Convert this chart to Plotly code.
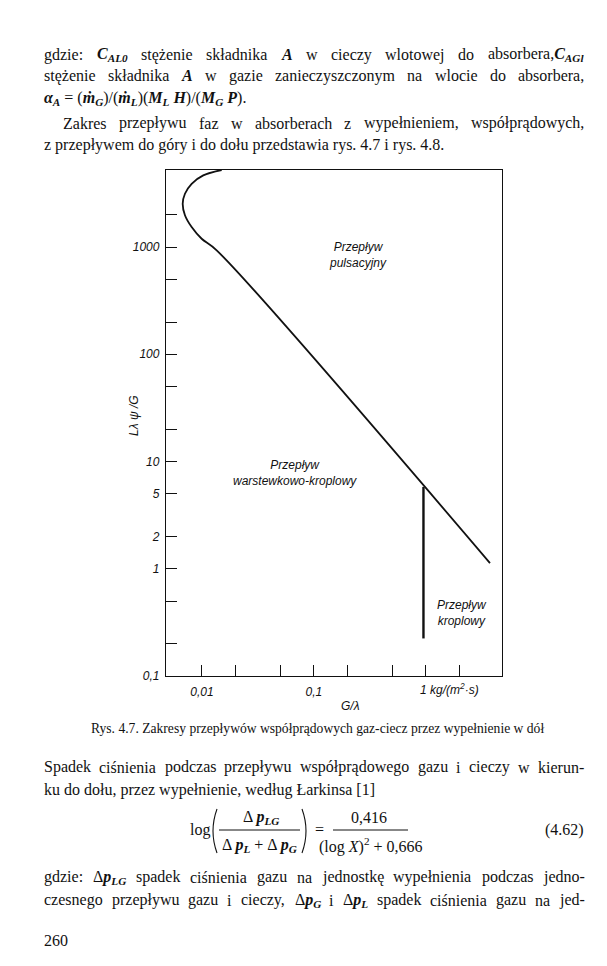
import re
import plotly.graph_objects as go

# ---------------- data ----------------
curve_x = [0.0150, 0.01027, 0.00809, 0.00705, 0.00673, 0.00705, 0.00809, 0.00994, 0.01353, 3.73]
curve_y = [5230, 4660, 3890, 3140, 2535, 1977, 1535, 1195, 931, 1.13]
boundary_x = [0.95, 0.95]
boundary_y = [5.8, 0.224]

y_tickvals = [0.1, 0.2, 0.5, 1, 2, 5, 10, 20, 50, 100, 200, 500, 1000, 2000]
y_ticktext = ["0,1", "", "", "1", "2", "5", "10", "", "", "100", "", "", "1000", ""]
x_tickvals = [0.01, 0.02, 0.05, 0.1, 0.2, 0.5, 1, 2]
x_ticktext = ["0,01", "", "", "0,1", "", "", "", ""]
x_unit_label = "1 kg/(m<sup>2</sup>·s)"
x_title = "G/λ"
y_title = "Lλ ψ /G"
region_labels = ["Przepływ<br>pulsacyjny", "Przepływ<br>warstewkowo-kroplowy", "Przepływ<br>kroplowy"]

caption = "Rys. 4.7. Zakresy przepływów współprądowych gaz-ciecz przez wypełnienie w dół"

# ---------------- layout helpers ----------------
# page coordinates (the html body adds an 8 px margin on the top and left)
OFF = 8
FW, FH = 607 - OFF, 950
L, R, T, B = 166, 502, 170, 676
PW, PH = R - L, B - T


def px(x):
    return (x - L) / PW


def py(y):
    return (B - y) / PH


TW = {' ': 250, '!': 333, '(': 333, ')': 333, ',': 250, '-': 333, '.': 250, '/': 278,
      ':': 278, '[': 333, ']': 333, '=': 564, '+': 564, '·': 250,
      'A': 722, 'B': 667, 'C': 667, 'D': 722, 'E': 611, 'F': 556, 'G': 722, 'H': 722,
      'I': 333, 'J': 389, 'K': 722, 'L': 611, 'M': 889, 'N': 722, 'O': 722, 'P': 556,
      'Q': 722, 'R': 667, 'S': 556, 'T': 611, 'U': 722, 'V': 722, 'W': 944, 'X': 722,
      'Y': 722, 'Z': 611, 'Ł': 611, 'Δ': 612, 'α': 520,
      'a': 444, 'b': 500, 'c': 444, 'd': 500, 'e': 444, 'f': 333, 'g': 500, 'h': 500,
      'i': 278, 'j': 278, 'k': 500, 'l': 278, 'm': 778, 'n': 500, 'o': 500, 'p': 500,
      'q': 500, 'r': 333, 's': 389, 't': 278, 'u': 500, 'v': 500, 'w': 722, 'x': 500,
      'y': 500, 'z': 444, 'ą': 444, 'ę': 444, 'ć': 444, 'ł': 278, 'ń': 500, 'ó': 500,
      'ś': 389, 'ź': 444, 'ż': 444, 'ṁ': 778}


def text_width(html, size):
    total, scale = 0.0, 1.0
    for tok in re.split(r'(<[^>]+>)', html):
        if tok.startswith('<'):
            t = tok.lower()
            if t in ('<sub>', '<sup>'):
                scale = 0.7
            elif t in ('</sub>', '</sup>'):
                scale = 1.0
            continue
        for ch in tok:
            total += TW.get(ch, 500) * scale
    return total * size / 1000.0


SERIF = "Liberation Serif"
SANS = "Liberation Sans"
INK = "#111111"
annotations = []
shapes = []


def text(s, x, y, size, anchor="left", family=SERIF, style="normal", angle=0):
    annotations.append(dict(text=s, x=px(x), y=py(y), xref="paper", yref="paper",
                            xanchor=anchor, yanchor="middle", showarrow=False,
                            textangle=angle, borderpad=0,
                            font=dict(family=family, size=size, color=INK, style=style)))


def justify(words, x0, x1, y, size):
    widths = [text_width(w, size) for w in words]
    gap = (x1 - x0 - sum(widths)) / (len(words) - 1)
    x = x0
    for w, wd in zip(words, widths):
        text(w, x, y, size)
        x += wd + gap


def bi(s):
    return "<b><i>" + s + "</i></b>"


def sub(s):
    return "<sub>" + s + "</sub>"


def hline(xa, xb, y):
    shapes.append(dict(type="line", xref="paper", yref="paper", x0=px(xa), x1=px(xb),
                       y0=py(y), y1=py(y), line=dict(color=INK, width=1)))


def paren(xe, xm, y0, y1):
    path = "M %.5f %.5f Q %.5f %.5f %.5f %.5f" % (px(xe), py(y0), px(xm), py((y0 + y1) / 2),
                                                  px(xe), py(y1))
    shapes.append(dict(type="path", xref="paper", yref="paper", path=path,
                       line=dict(color=INK, width=1.1)))


FS = 16
# ---------------- body text above ----------------
justify(["gdzie:", bi("C") + sub(bi("AL0")), "stężenie", "składnika", bi("A"), "w", "cieczy",
         "wlotowej", "do", "absorbera," + bi("C") + sub(bi("AGl"))], 43, 583, 55, FS)
justify(["stężenie", "składnika", bi("A"), "w", "gazie", "zanieczyszczonym", "na", "wlocie",
         "do", "absorbera,"], 43, 583, 76, FS)
text(bi("α") + sub(bi("A")) + " = (" + bi("ṁ") + sub(bi("G")) + ")/(" + bi("ṁ") + sub(bi("L"))
     + ")(" + bi("M") + sub(bi("L")) + " " + bi("H") + ")/(" + bi("M") + sub(bi("G")) + " "
     + bi("P") + ").", 43, 99, FS)
justify("Zakres przepływu faz w absorberach z wypełnieniem, współprądowych,".split(), 62, 583, 123, FS)
text("z przepływem do góry i do dołu przedstawia rys. 4.7 i rys. 4.8.", 43, 145, FS)

# ---------------- caption ----------------
cap_size = 454 / (text_width(caption, 1.0))
text(caption, 317, 728, cap_size, anchor="center")

# ---------------- body text below ----------------
justify("Spadek ciśnienia podczas przepływu współprądowego gazu i cieczy w kierun-".split(),
        43, 583, 767, FS)
text("ku do dołu, przez wypełnienie, według Łarkinsa [1]", 43, 790, FS)

# equation 4.62
text("log", 200, 830, FS, anchor="center")
paren(217, 209, 809, 853)
paren(302, 310, 809, 853)
text("Δ " + bi("p") + sub(bi("LG")), 261, 817, FS, anchor="center")
hline(219, 300, 830)
text("Δ " + bi("p") + sub(bi("L")) + " + Δ " + bi("p") + sub(bi("G")), 259, 845, FS, anchor="center")
text("=", 319, 829, FS, anchor="center")
text("0,416", 369, 817, FS, anchor="center")
hline(333, 408, 830)
text("(log <i>X</i>)<sup>2</sup> + 0,666", 371, 845, FS, anchor="center")
text("(4.62)", 585, 830, FS, anchor="right")

justify(["gdzie:", "Δ" + bi("p") + sub(bi("LG")), "spadek", "ciśnienia", "gazu", "na", "jednostkę",
         "wypełnienia", "podczas", "jedno-"], 43, 583, 877, FS)
justify(["czesnego", "przepływu", "gazu", "i", "cieczy,", "Δ" + bi("p") + sub(bi("G")), "i",
         "Δ" + bi("p") + sub(bi("L")), "spadek", "ciśnienia", "gazu", "na", "jed-"], 43, 583, 900, FS)
text("260", 43, 940, FS)

# ---------------- chart labels ----------------
text(region_labels[0], 358, 255, 12, anchor="center", family=SANS, style="italic")
text(region_labels[1], 295, 473, 12, anchor="center", family=SANS, style="italic")
text(region_labels[2], 462, 613, 12, anchor="center", family=SANS, style="italic")
text(y_title, 134, 416, 12, anchor="center", family=SANS, style="italic", angle=-90)
text(x_title, 350, 706, 12, anchor="center", family=SANS, style="italic")
annotations.append(dict(text=x_unit_label, x=0, y=0, xref="x", yref="paper", xanchor="left",
                        yanchor="top", xshift=-7, yshift=-4, showarrow=False, borderpad=0,
                        font=dict(family=SANS, size=12, color=INK, style="italic")))

# ---------------- figure ----------------
fig = go.Figure()
fig.add_trace(go.Scatter(x=curve_x, y=curve_y, mode="lines", line=dict(color=INK, width=1.8),
                         line_shape="spline", hoverinfo="skip", showlegend=False))
fig.add_trace(go.Scatter(x=boundary_x, y=boundary_y, mode="lines", line=dict(color=INK, width=2.4),
                         hoverinfo="skip", showlegend=False))

axis_common = dict(showgrid=False, zeroline=False, showline=True, linecolor=INK, linewidth=1.3,
                   mirror=True, ticks="inside", ticklen=11, tickwidth=1.3, tickcolor=INK,
                   tickfont=dict(family=SANS, size=12, color=INK, style="italic"))
fig.update_xaxes(type="log", range=[-2.321, 0.679], tickvals=x_tickvals, ticktext=x_ticktext,
                 ticklabelstandoff=4, **axis_common)
fig.update_yaxes(type="log", range=[-1, 3.7185], tickvals=y_tickvals, ticktext=y_ticktext,
                 ticklabelstandoff=3, **axis_common)
fig.update_layout(width=FW, height=FH, autosize=False,
                  margin=dict(l=L - OFF, r=FW - (R - OFF), t=T - OFF, b=FH - (B - OFF)),
                  paper_bgcolor="white", plot_bgcolor="white",
                  annotations=annotations, shapes=shapes, showlegend=False)
fig.write_html("out.html")
